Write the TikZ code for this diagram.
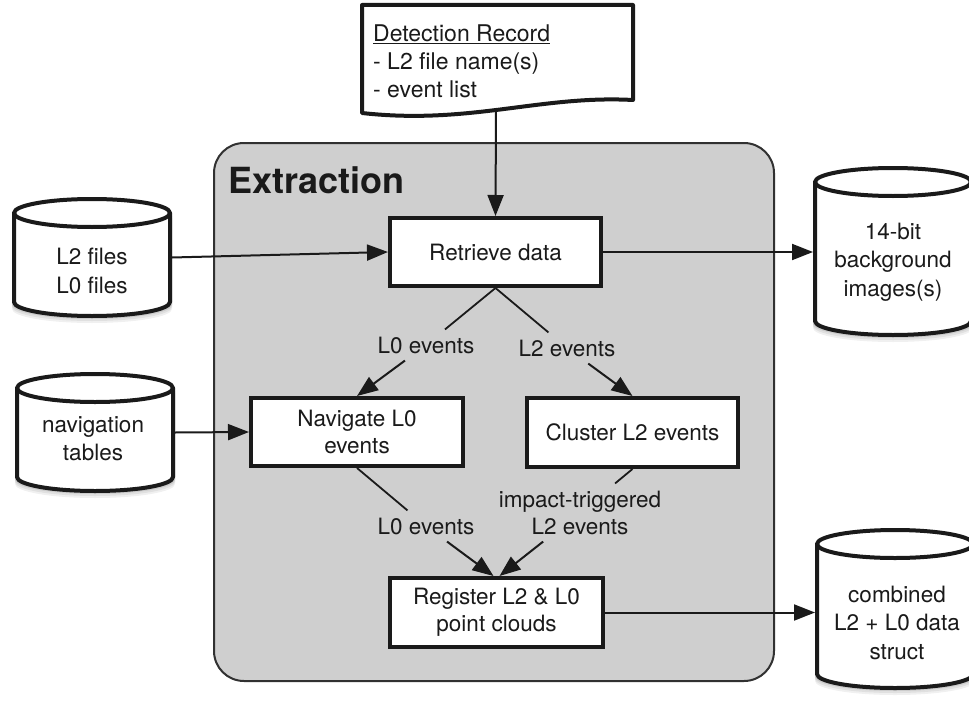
\documentclass[tikz,border=0pt]{standalone}
\usepackage{fontspec}
\setmainfont{TeX Gyre Heros}
\usetikzlibrary{arrows.meta}
\definecolor{panel}{HTML}{CFCFCF}
\definecolor{ink}{HTML}{1A1A1A}
\newcommand\dbcyl[3]{% cx, ytop(path), ybot(path)
  \foreach \sh/\col in {7/black!6,5/black!12,3/black!20}{%
    \fill[\col] (#1-80,#2+14+\sh) -- (#1-80,#3-14+\sh)
      arc[start angle=180,end angle=360,x radius=80pt,y radius=14pt]
      -- (#1+80,#2+14+\sh) -- cycle;
  }
  \draw[cylline] (#1-78,#2+14) -- (#1-78,#3-14)
    arc[start angle=180,end angle=360,x radius=78pt,y radius=14pt]
    -- (#1+78,#2+14)
    arc[start angle=0,end angle=180,x radius=78pt,y radius=14pt] -- cycle;
  \draw[cylline,fill=none] (#1-78,#2+14)
    arc[start angle=180,end angle=360,x radius=78pt,y radius=14pt];
}
\tikzset{
  cylline/.style={draw=ink, line width=4pt, fill=white, line join=round},
  proc/.style={draw=ink, line width=4pt, fill=white, text=ink, align=center,
    inner sep=0pt, font=\fontsize{22.5}{27}\selectfont},
  lab/.style={text=ink, align=center, inner sep=7pt,
    font=\fontsize{22.5}{27}\selectfont},
  cyltext/.style={text=ink, align=center, inner sep=0pt,
    font=\fontsize{22.5}{28.5}\selectfont},
  body/.style={inner sep=0pt, outer sep=0pt},
  arr/.style={draw=ink, line width=2pt, -{Triangle[length=21pt,width=16pt]}},
  ln/.style={draw=ink, line width=1.8pt},
}
\begin{document}
\begin{tikzpicture}[x=1pt,y=-1pt]
\useasboundingbox (0,0) rectangle (969,701);

% Extraction panel
\draw[fill=panel, draw=ink!90, line width=2pt, rounded corners=30pt]
  (214,143) rectangle (774,681);
\node[anchor=west, inner sep=0pt, text=ink, font=\fontsize{36}{40}\selectfont\bfseries]
  (title) at (228,180) {Extraction};

% Detection record document
\draw[draw=ink, line width=4pt, fill=white, line join=round]
  (362,5) -- (633,5) -- (633,100)
  .. controls (540,95) and (470,125) .. (362,113) -- cycle;
\node[anchor=west, align=left, inner sep=0pt, text=ink,
  font=\fontsize{23}{28}\selectfont] (doctext) at (373,61)
  {\underline{Detection Record}\\- L2 file name(s)\\- event list};
\coordinate (docb) at (496,110);

% Cylinders
\dbcyl{92}{199}{316}
\dbcyl{95}{374}{491}
\dbcyl{893}{168}{335}
\dbcyl{895}{530}{688}
\node[body, minimum width=160pt, minimum height=121pt] (l2f) at (92,257.5) {};
\node[body, minimum width=160pt, minimum height=121pt] (navc) at (95,432.5) {};
\node[body, minimum width=160pt, minimum height=171pt] (bgimg) at (893,251.5) {};
\node[body, minimum width=160pt, minimum height=162pt] (comb) at (895,609) {};
\node[cyltext] (l2ft) at (92,271) {L2 files\\L0 files};
\node[cyltext] (navct) at (93,438.5) {navigation\\tables};
\node[cyltext] (bgimgt) at (893,262) {14-bit\\background\\images(s)};
\node[cyltext] (combt) at (897,622.5) {combined\\L2 + L0 data\\struct};

% Process boxes
\node[proc, minimum width=211pt, minimum height=68pt] (ret) at (495.5,252) {Retrieve data};
\node[proc, minimum width=212pt, minimum height=68pt] (nav) at (357,432) {Navigate L0\\events};
\node[proc, minimum width=211pt, minimum height=69pt] (clu) at (632.5,432.5) {Cluster L2 events};
\node[proc, minimum width=213pt, minimum height=69pt] (reg) at (496.5,612.5) {Register L2 \& L0\\point clouds};

% Labels
\node[lab] (l0a) at (426,345) {L0 events};
\node[lab] (l2a) at (567,348) {L2 events};
\node[lab] (l0b) at (426,526) {L0 events};
\node[lab] (l2b) at (580,512.5) {impact-triggered\\L2 events};

% Connectors
\draw[arr] (docb) -- (ret.north);
\draw[arr] (l2f.east) -- (ret.west);
\draw[arr] (ret.east) -- (ret.east -| bgimg.west);
\draw[arr] (navc.east) -- (nav.west);
\draw[arr] (reg.east) -- (reg.east -| comb.west);
\draw[ln] (ret.south) -- (l0a);
\draw[ln] (ret.south) -- (l2a);
\draw[arr] (l0a) -- (nav.north);
\draw[arr] (l2a) -- (clu.north);
\draw[ln] (nav.south) -- (l0b);
\draw[ln] (clu.south) -- (l2b);
\draw[arr] (l0b) -- ([xshift=-3pt]reg.north);
\draw[arr] (l2b) -- ([xshift=3pt]reg.north);
\end{tikzpicture}
\end{document}
